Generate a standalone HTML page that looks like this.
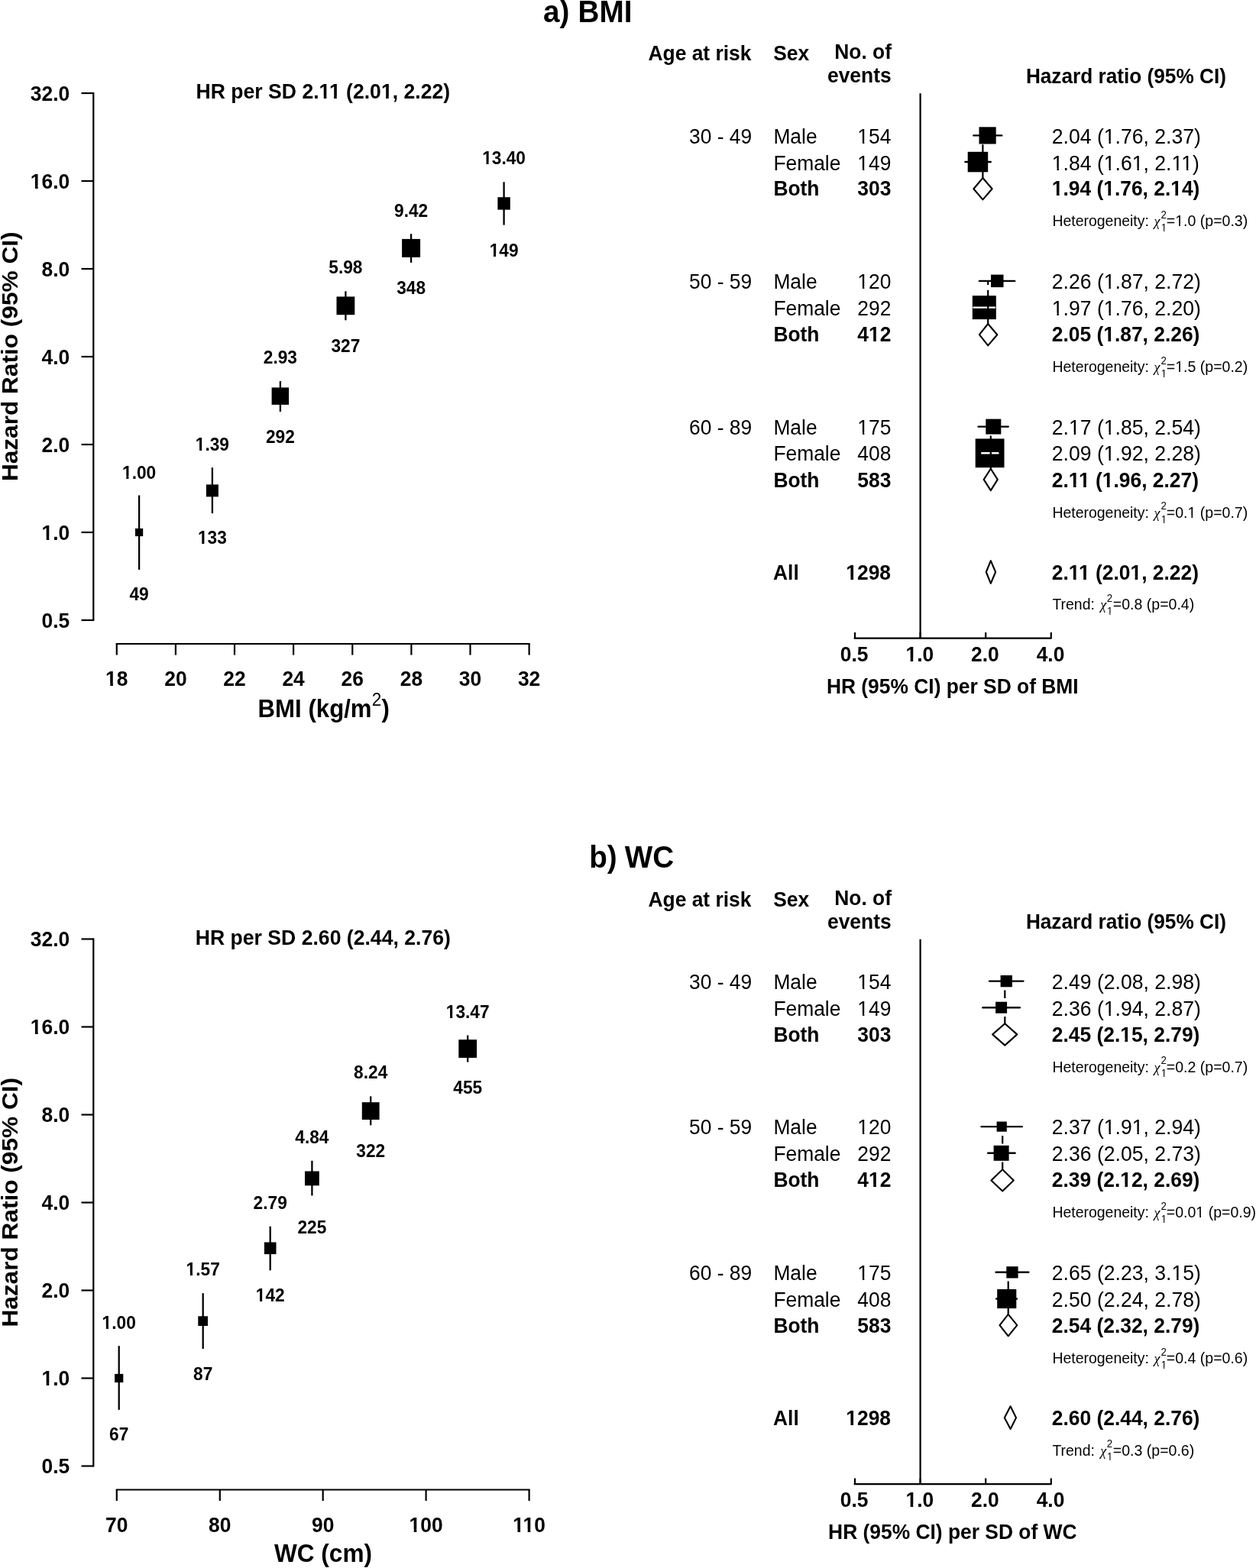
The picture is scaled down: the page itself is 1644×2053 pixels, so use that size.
<!DOCTYPE html>
<html><head><meta charset="utf-8"><title>Hazard ratios by BMI and WC</title>
<style>
html,body{margin:0;padding:0;background:#fff;}
svg{display:block;}
text{font-family:"Liberation Sans",Arial,sans-serif;fill:#000;}
</style></head><body>
<svg width="1644" height="2053" viewBox="0 0 1644 2053">
<rect width="1644" height="2053" fill="#fff"/>
<text transform="translate(711.0,28.5) scale(1,1.05)" font-size="38.7" text-anchor="start" font-weight="bold">a)</text>
<text transform="translate(756.5,28.5) scale(1,1.05)" font-size="38.7" text-anchor="start" font-weight="bold">BMI</text>
<line x1="122.3" y1="120.9" x2="122.3" y2="813.1" stroke="#000" stroke-width="2.2"/>
<line x1="106.5" y1="122.0" x2="122.3" y2="122.0" stroke="#000" stroke-width="2.2"/>
<text transform="translate(91.2,131.9) scale(1,1.05)" font-size="26.4" text-anchor="end" font-weight="bold">32.0</text>
<line x1="106.5" y1="237.0" x2="122.3" y2="237.0" stroke="#000" stroke-width="2.2"/>
<text transform="translate(91.2,246.9) scale(1,1.05)" font-size="26.4" text-anchor="end" font-weight="bold">16.0</text>
<line x1="106.5" y1="352.0" x2="122.3" y2="352.0" stroke="#000" stroke-width="2.2"/>
<text transform="translate(91.2,361.9) scale(1,1.05)" font-size="26.4" text-anchor="end" font-weight="bold">8.0</text>
<line x1="106.5" y1="467.0" x2="122.3" y2="467.0" stroke="#000" stroke-width="2.2"/>
<text transform="translate(91.2,476.9) scale(1,1.05)" font-size="26.4" text-anchor="end" font-weight="bold">4.0</text>
<line x1="106.5" y1="582.0" x2="122.3" y2="582.0" stroke="#000" stroke-width="2.2"/>
<text transform="translate(91.2,591.9) scale(1,1.05)" font-size="26.4" text-anchor="end" font-weight="bold">2.0</text>
<line x1="106.5" y1="697.0" x2="122.3" y2="697.0" stroke="#000" stroke-width="2.2"/>
<text transform="translate(91.2,706.9) scale(1,1.05)" font-size="26.4" text-anchor="end" font-weight="bold">1.0</text>
<line x1="106.5" y1="812.0" x2="122.3" y2="812.0" stroke="#000" stroke-width="2.2"/>
<text transform="translate(91.2,821.9) scale(1,1.05)" font-size="26.4" text-anchor="end" font-weight="bold">0.5</text>
<text x="0" y="0" font-size="30.1" font-weight="bold" text-anchor="middle" transform="translate(22.8,466.8) rotate(-90) scale(1.05,1)">Hazard Ratio (95% CI)</text>
<line x1="151.7" y1="843.0" x2="693.7" y2="843.0" stroke="#000" stroke-width="2.2"/>
<line x1="152.8" y1="843.0" x2="152.8" y2="857.6" stroke="#000" stroke-width="2.2"/>
<text transform="translate(152.8,898.3) scale(1,1.05)" font-size="26.4" text-anchor="middle" font-weight="bold">18</text>
<line x1="229.9" y1="843.0" x2="229.9" y2="857.6" stroke="#000" stroke-width="2.2"/>
<text transform="translate(229.9,898.3) scale(1,1.05)" font-size="26.4" text-anchor="middle" font-weight="bold">20</text>
<line x1="307.0" y1="843.0" x2="307.0" y2="857.6" stroke="#000" stroke-width="2.2"/>
<text transform="translate(307.0,898.3) scale(1,1.05)" font-size="26.4" text-anchor="middle" font-weight="bold">22</text>
<line x1="384.1" y1="843.0" x2="384.1" y2="857.6" stroke="#000" stroke-width="2.2"/>
<text transform="translate(384.1,898.3) scale(1,1.05)" font-size="26.4" text-anchor="middle" font-weight="bold">24</text>
<line x1="461.3" y1="843.0" x2="461.3" y2="857.6" stroke="#000" stroke-width="2.2"/>
<text transform="translate(461.3,898.3) scale(1,1.05)" font-size="26.4" text-anchor="middle" font-weight="bold">26</text>
<line x1="538.4" y1="843.0" x2="538.4" y2="857.6" stroke="#000" stroke-width="2.2"/>
<text transform="translate(538.4,898.3) scale(1,1.05)" font-size="26.4" text-anchor="middle" font-weight="bold">28</text>
<line x1="615.5" y1="843.0" x2="615.5" y2="857.6" stroke="#000" stroke-width="2.2"/>
<text transform="translate(615.5,898.3) scale(1,1.05)" font-size="26.4" text-anchor="middle" font-weight="bold">30</text>
<line x1="692.6" y1="843.0" x2="692.6" y2="857.6" stroke="#000" stroke-width="2.2"/>
<text transform="translate(692.6,898.3) scale(1,1.05)" font-size="26.4" text-anchor="middle" font-weight="bold">32</text>
<text transform="translate(337.6,939.0) scale(1,1.05)" font-size="31.2" font-weight="bold">BMI (kg/m<tspan font-size="22.5" font-weight="normal" dy="-14" dx="0.3">2</tspan><tspan dy="14">)</tspan></text>
<text transform="translate(422.8,129.4) scale(1,1.05)" font-size="26.6" text-anchor="middle" font-weight="bold">HR per SD 2.11 (2.01, 2.22)</text>
<line x1="182.1" y1="648.5" x2="182.1" y2="745.9" stroke="#000" stroke-width="2.3"/>
<rect x="177.0" y="691.9" width="10.2" height="10.2" fill="#000"/>
<text transform="translate(182.1,626.5) scale(1,1.05)" font-size="22.7" text-anchor="middle" font-weight="bold">1.00</text>
<text transform="translate(182.1,785.5) scale(1,1.05)" font-size="22.7" text-anchor="middle" font-weight="bold">49</text>
<line x1="277.9" y1="612.2" x2="277.9" y2="672.2" stroke="#000" stroke-width="2.3"/>
<rect x="269.9" y="634.4" width="16.0" height="16.0" fill="#000"/>
<text transform="translate(277.9,590.1) scale(1,1.05)" font-size="22.7" text-anchor="middle" font-weight="bold">1.39</text>
<text transform="translate(277.9,712.4) scale(1,1.05)" font-size="22.7" text-anchor="middle" font-weight="bold">133</text>
<line x1="366.9" y1="499.1" x2="366.9" y2="539.0" stroke="#000" stroke-width="2.3"/>
<rect x="355.6" y="507.4" width="22.5" height="22.5" fill="#000"/>
<text transform="translate(366.9,475.6) scale(1,1.05)" font-size="22.7" text-anchor="middle" font-weight="bold">2.93</text>
<text transform="translate(366.9,580.1) scale(1,1.05)" font-size="22.7" text-anchor="middle" font-weight="bold">292</text>
<line x1="452.4" y1="381.3" x2="452.4" y2="419.3" stroke="#000" stroke-width="2.3"/>
<rect x="440.5" y="388.4" width="23.8" height="23.8" fill="#000"/>
<text transform="translate(452.4,358.4) scale(1,1.05)" font-size="22.7" text-anchor="middle" font-weight="bold">5.98</text>
<text transform="translate(452.4,461.0) scale(1,1.05)" font-size="22.7" text-anchor="middle" font-weight="bold">327</text>
<line x1="538.1" y1="306.2" x2="538.1" y2="343.9" stroke="#000" stroke-width="2.3"/>
<rect x="526.1" y="312.9" width="24.0" height="24.0" fill="#000"/>
<text transform="translate(538.1,283.6) scale(1,1.05)" font-size="22.7" text-anchor="middle" font-weight="bold">9.42</text>
<text transform="translate(538.1,384.5) scale(1,1.05)" font-size="22.7" text-anchor="middle" font-weight="bold">348</text>
<line x1="659.6" y1="238.3" x2="659.6" y2="294.6" stroke="#000" stroke-width="2.3"/>
<rect x="651.4" y="258.2" width="16.4" height="16.4" fill="#000"/>
<text transform="translate(659.6,215.4) scale(1,1.05)" font-size="22.7" text-anchor="middle" font-weight="bold">13.40</text>
<text transform="translate(659.6,335.9) scale(1,1.05)" font-size="22.7" text-anchor="middle" font-weight="bold">149</text>
<text transform="translate(983.4,79.2) scale(1,1.05)" font-size="26.4" text-anchor="end" font-weight="bold">Age at risk</text>
<text transform="translate(1012.2,79.2) scale(1,1.05)" font-size="26.4" text-anchor="start" font-weight="bold">Sex</text>
<text transform="translate(1167.0,77.2) scale(1,1.05)" font-size="26.4" text-anchor="end" font-weight="bold">No. of</text>
<text transform="translate(1166.6,108.2) scale(1,1.05)" font-size="26.4" text-anchor="end" font-weight="bold">events</text>
<text transform="translate(1473.9,108.6) scale(1,1.05)" font-size="26.2" text-anchor="middle" font-weight="bold">Hazard ratio (95% CI)</text>
<line x1="1204.6" y1="122.3" x2="1204.6" y2="835.7" stroke="#000" stroke-width="2.2"/>
<line x1="1117.7" y1="835.7" x2="1376.6" y2="835.7" stroke="#000" stroke-width="2.2"/>
<line x1="1119.0" y1="828.0" x2="1119.0" y2="835.7" stroke="#000" stroke-width="2.2"/>
<text transform="translate(1118.2,865.7) scale(1,1.05)" font-size="26.4" text-anchor="middle" font-weight="bold">0.5</text>
<line x1="1204.6" y1="828.0" x2="1204.6" y2="835.7" stroke="#000" stroke-width="2.2"/>
<text transform="translate(1203.8,865.7) scale(1,1.05)" font-size="26.4" text-anchor="middle" font-weight="bold">1.0</text>
<line x1="1290.2" y1="828.0" x2="1290.2" y2="835.7" stroke="#000" stroke-width="2.2"/>
<text transform="translate(1289.4,865.7) scale(1,1.05)" font-size="26.4" text-anchor="middle" font-weight="bold">2.0</text>
<line x1="1375.8" y1="828.0" x2="1375.8" y2="835.7" stroke="#000" stroke-width="2.2"/>
<text transform="translate(1375.0,865.7) scale(1,1.05)" font-size="26.4" text-anchor="middle" font-weight="bold">4.0</text>
<text transform="translate(1246.8,907.7) scale(1,1.05)" font-size="26.4" text-anchor="middle" font-weight="bold">HR (95% CI) per SD of BMI</text>
<rect x="1281.5" y="166.3" width="22.2" height="22.2" fill="#000"/>
<line x1="1274.4" y1="177.4" x2="1311.2" y2="177.4" stroke="#000" stroke-width="2.4" stroke-linecap="round"/>
<rect x="1266.7" y="198.8" width="26.5" height="26.5" fill="#000"/>
<line x1="1263.4" y1="212.0" x2="1296.8" y2="212.0" stroke="#000" stroke-width="2.4" stroke-linecap="round"/>
<line x1="1286.4" y1="177.4" x2="1286.4" y2="247.2" stroke="#000" stroke-width="2.2" stroke-dasharray="10.5 6.8" stroke-dashoffset="5.5"/>
<polygon points="1274.4,247.2 1286.4,233.0 1298.6,247.2 1286.4,261.4" fill="#fff" stroke="#000" stroke-width="2.1" stroke-linejoin="round"/>
<text transform="translate(984.2,187.8) scale(1,1.05)" font-size="26.4" text-anchor="end">30 - 49</text>
<text transform="translate(1012.4,187.8) scale(1,1.05)" font-size="26.4" text-anchor="start">Male</text>
<text transform="translate(1012.4,222.7) scale(1,1.05)" font-size="26.4" text-anchor="start">Female</text>
<text transform="translate(1012.4,256.3) scale(1,1.05)" font-size="26.4" text-anchor="start" font-weight="bold">Both</text>
<text transform="translate(1166.4,187.8) scale(1,1.05)" font-size="26.4" text-anchor="end">154</text>
<text transform="translate(1166.4,222.7) scale(1,1.05)" font-size="26.4" text-anchor="end">149</text>
<text transform="translate(1166.4,256.3) scale(1,1.05)" font-size="26.4" text-anchor="end" font-weight="bold">303</text>
<text transform="translate(1376.8,187.8) scale(1,1.05)" font-size="26.6" text-anchor="start">2.04 (1.76, 2.37)</text>
<text transform="translate(1376.8,222.7) scale(1,1.05)" font-size="26.6" text-anchor="start">1.84 (1.61, 2.11)</text>
<text transform="translate(1376.8,256.3) scale(1,1.05)" font-size="26.4" text-anchor="start" font-weight="bold">1.94 (1.76, 2.14)</text>
<text transform="translate(1377.4,296.3) scale(1,1.05)" font-size="19.45" text-anchor="start">Heterogeneity: </text>
<text transform="translate(1510.4,296.3) scale(1,1.05)" font-size="18" text-anchor="start" style="font-family:'Liberation Serif',serif;font-style:italic">χ</text>
<text transform="translate(1519.6,285.7) scale(1,1.05)" font-size="13.2" text-anchor="start">2</text>
<text transform="translate(1519.8,303.2) scale(1,1.05)" font-size="13.2" text-anchor="start">1</text>
<text transform="translate(1526.8,296.3) scale(1,1.05)" font-size="19.55" text-anchor="start">=1.0 (p=0.3)</text>
<rect x="1297.0" y="359.6" width="16.5" height="16.5" fill="#000"/>
<line x1="1281.9" y1="367.9" x2="1328.2" y2="367.9" stroke="#000" stroke-width="2.4" stroke-linecap="round"/>
<rect x="1272.8" y="387.1" width="31.0" height="31.0" fill="#000"/>
<line x1="1274.4" y1="402.6" x2="1302.0" y2="402.6" stroke="#fff" stroke-width="2.4" stroke-linecap="round"/>
<line x1="1293.2" y1="367.9" x2="1293.2" y2="438.2" stroke="#000" stroke-width="2.2" stroke-dasharray="10.5 6.8" stroke-dashoffset="5.5"/>
<polygon points="1281.9,438.2 1293.2,424.0 1305.3,438.2 1293.2,452.4" fill="#fff" stroke="#000" stroke-width="2.1" stroke-linejoin="round"/>
<text transform="translate(984.2,377.8) scale(1,1.05)" font-size="26.4" text-anchor="end">50 - 59</text>
<text transform="translate(1012.4,377.8) scale(1,1.05)" font-size="26.4" text-anchor="start">Male</text>
<text transform="translate(1012.4,412.7) scale(1,1.05)" font-size="26.4" text-anchor="start">Female</text>
<text transform="translate(1012.4,447.2) scale(1,1.05)" font-size="26.4" text-anchor="start" font-weight="bold">Both</text>
<text transform="translate(1166.4,377.8) scale(1,1.05)" font-size="26.4" text-anchor="end">120</text>
<text transform="translate(1166.4,412.7) scale(1,1.05)" font-size="26.4" text-anchor="end">292</text>
<text transform="translate(1166.4,447.2) scale(1,1.05)" font-size="26.4" text-anchor="end" font-weight="bold">412</text>
<text transform="translate(1376.8,377.8) scale(1,1.05)" font-size="26.6" text-anchor="start">2.26 (1.87, 2.72)</text>
<text transform="translate(1376.8,412.7) scale(1,1.05)" font-size="26.6" text-anchor="start">1.97 (1.76, 2.20)</text>
<text transform="translate(1376.8,447.2) scale(1,1.05)" font-size="26.4" text-anchor="start" font-weight="bold">2.05 (1.87, 2.26)</text>
<text transform="translate(1377.4,487.2) scale(1,1.05)" font-size="19.45" text-anchor="start">Heterogeneity: </text>
<text transform="translate(1510.4,487.2) scale(1,1.05)" font-size="18" text-anchor="start" style="font-family:'Liberation Serif',serif;font-style:italic">χ</text>
<text transform="translate(1519.6,476.6) scale(1,1.05)" font-size="13.2" text-anchor="start">2</text>
<text transform="translate(1519.8,494.1) scale(1,1.05)" font-size="13.2" text-anchor="start">1</text>
<text transform="translate(1526.8,487.2) scale(1,1.05)" font-size="19.55" text-anchor="start">=1.5 (p=0.2)</text>
<rect x="1290.3" y="548.6" width="20.0" height="20.0" fill="#000"/>
<line x1="1280.6" y1="558.6" x2="1319.7" y2="558.6" stroke="#000" stroke-width="2.4" stroke-linecap="round"/>
<rect x="1276.7" y="574.4" width="37.8" height="37.8" fill="#000"/>
<line x1="1285.2" y1="593.3" x2="1306.4" y2="593.3" stroke="#fff" stroke-width="2.4" stroke-linecap="round"/>
<line x1="1296.8" y1="558.6" x2="1296.8" y2="627.9" stroke="#000" stroke-width="2.2" stroke-dasharray="10.5 6.8" stroke-dashoffset="5.5"/>
<polygon points="1287.7,627.9 1296.8,613.7 1305.8,627.9 1296.8,642.1" fill="#fff" stroke="#000" stroke-width="2.1" stroke-linejoin="round"/>
<text transform="translate(984.2,568.9) scale(1,1.05)" font-size="26.4" text-anchor="end">60 - 89</text>
<text transform="translate(1012.4,568.9) scale(1,1.05)" font-size="26.4" text-anchor="start">Male</text>
<text transform="translate(1012.4,603.3) scale(1,1.05)" font-size="26.4" text-anchor="start">Female</text>
<text transform="translate(1012.4,638.0) scale(1,1.05)" font-size="26.4" text-anchor="start" font-weight="bold">Both</text>
<text transform="translate(1166.4,568.9) scale(1,1.05)" font-size="26.4" text-anchor="end">175</text>
<text transform="translate(1166.4,603.3) scale(1,1.05)" font-size="26.4" text-anchor="end">408</text>
<text transform="translate(1166.4,638.0) scale(1,1.05)" font-size="26.4" text-anchor="end" font-weight="bold">583</text>
<text transform="translate(1376.8,568.9) scale(1,1.05)" font-size="26.6" text-anchor="start">2.17 (1.85, 2.54)</text>
<text transform="translate(1376.8,603.3) scale(1,1.05)" font-size="26.6" text-anchor="start">2.09 (1.92, 2.28)</text>
<text transform="translate(1376.8,638.0) scale(1,1.05)" font-size="26.4" text-anchor="start" font-weight="bold">2.11 (1.96, 2.27)</text>
<text transform="translate(1377.4,678.0) scale(1,1.05)" font-size="19.45" text-anchor="start">Heterogeneity: </text>
<text transform="translate(1510.4,678.0) scale(1,1.05)" font-size="18" text-anchor="start" style="font-family:'Liberation Serif',serif;font-style:italic">χ</text>
<text transform="translate(1519.6,667.4) scale(1,1.05)" font-size="13.2" text-anchor="start">2</text>
<text transform="translate(1519.8,684.9) scale(1,1.05)" font-size="13.2" text-anchor="start">1</text>
<text transform="translate(1526.8,678.0) scale(1,1.05)" font-size="19.55" text-anchor="start">=0.1 (p=0.7)</text>
<polygon points="1290.8,749.0 1296.8,734.1 1303.1,749.0 1296.8,763.9" fill="#fff" stroke="#000" stroke-width="2.1" stroke-linejoin="round"/>
<text transform="translate(1012.0,759.2) scale(1,1.05)" font-size="26.4" text-anchor="start" font-weight="bold">All</text>
<text transform="translate(1166.0,759.2) scale(1,1.05)" font-size="26.4" text-anchor="end" font-weight="bold">1298</text>
<text transform="translate(1376.8,759.2) scale(1,1.05)" font-size="26.4" text-anchor="start" font-weight="bold">2.11 (2.01, 2.22)</text>
<text transform="translate(1377.4,798.3) scale(1,1.05)" font-size="19.45" text-anchor="start">Trend: </text>
<text transform="translate(1440.3,798.3) scale(1,1.05)" font-size="18" text-anchor="start" style="font-family:'Liberation Serif',serif;font-style:italic">χ</text>
<text transform="translate(1448.8,787.7) scale(1,1.05)" font-size="13.2" text-anchor="start">2</text>
<text transform="translate(1449.0,805.2) scale(1,1.05)" font-size="13.2" text-anchor="start">1</text>
<text transform="translate(1456.8,798.3) scale(1,1.05)" font-size="19.55" text-anchor="start">=0.8 (p=0.4)</text>
<text transform="translate(771.2,1136.0) scale(1,1.05)" font-size="38.7" text-anchor="start" font-weight="bold">b)</text>
<text transform="translate(817.8,1136.0) scale(1,1.05)" font-size="38.7" text-anchor="start" font-weight="bold">WC</text>
<line x1="122.3" y1="1228.4" x2="122.3" y2="1920.6" stroke="#000" stroke-width="2.2"/>
<line x1="106.5" y1="1229.5" x2="122.3" y2="1229.5" stroke="#000" stroke-width="2.2"/>
<text transform="translate(91.2,1239.4) scale(1,1.05)" font-size="26.4" text-anchor="end" font-weight="bold">32.0</text>
<line x1="106.5" y1="1344.5" x2="122.3" y2="1344.5" stroke="#000" stroke-width="2.2"/>
<text transform="translate(91.2,1354.4) scale(1,1.05)" font-size="26.4" text-anchor="end" font-weight="bold">16.0</text>
<line x1="106.5" y1="1459.5" x2="122.3" y2="1459.5" stroke="#000" stroke-width="2.2"/>
<text transform="translate(91.2,1469.4) scale(1,1.05)" font-size="26.4" text-anchor="end" font-weight="bold">8.0</text>
<line x1="106.5" y1="1574.5" x2="122.3" y2="1574.5" stroke="#000" stroke-width="2.2"/>
<text transform="translate(91.2,1584.4) scale(1,1.05)" font-size="26.4" text-anchor="end" font-weight="bold">4.0</text>
<line x1="106.5" y1="1689.5" x2="122.3" y2="1689.5" stroke="#000" stroke-width="2.2"/>
<text transform="translate(91.2,1699.4) scale(1,1.05)" font-size="26.4" text-anchor="end" font-weight="bold">2.0</text>
<line x1="106.5" y1="1804.5" x2="122.3" y2="1804.5" stroke="#000" stroke-width="2.2"/>
<text transform="translate(91.2,1814.4) scale(1,1.05)" font-size="26.4" text-anchor="end" font-weight="bold">1.0</text>
<line x1="106.5" y1="1919.5" x2="122.3" y2="1919.5" stroke="#000" stroke-width="2.2"/>
<text transform="translate(91.2,1929.4) scale(1,1.05)" font-size="26.4" text-anchor="end" font-weight="bold">0.5</text>
<text x="0" y="0" font-size="30.1" font-weight="bold" text-anchor="middle" transform="translate(22.8,1574.3) rotate(-90) scale(1.05,1)">Hazard Ratio (95% CI)</text>
<line x1="151.7" y1="1950.5" x2="693.7" y2="1950.5" stroke="#000" stroke-width="2.2"/>
<line x1="152.8" y1="1950.5" x2="152.8" y2="1965.1" stroke="#000" stroke-width="2.2"/>
<text transform="translate(152.8,2005.8) scale(1,1.05)" font-size="26.4" text-anchor="middle" font-weight="bold">70</text>
<line x1="287.8" y1="1950.5" x2="287.8" y2="1965.1" stroke="#000" stroke-width="2.2"/>
<text transform="translate(287.8,2005.8) scale(1,1.05)" font-size="26.4" text-anchor="middle" font-weight="bold">80</text>
<line x1="422.7" y1="1950.5" x2="422.7" y2="1965.1" stroke="#000" stroke-width="2.2"/>
<text transform="translate(422.7,2005.8) scale(1,1.05)" font-size="26.4" text-anchor="middle" font-weight="bold">90</text>
<line x1="557.6" y1="1950.5" x2="557.6" y2="1965.1" stroke="#000" stroke-width="2.2"/>
<text transform="translate(557.6,2005.8) scale(1,1.05)" font-size="26.4" text-anchor="middle" font-weight="bold">100</text>
<line x1="692.6" y1="1950.5" x2="692.6" y2="1965.1" stroke="#000" stroke-width="2.2"/>
<text transform="translate(692.6,2005.8) scale(1,1.05)" font-size="26.4" text-anchor="middle" font-weight="bold">110</text>
<text transform="translate(423.0,2045.2) scale(1,1.05)" font-size="31.6" text-anchor="middle" font-weight="bold">WC (cm)</text>
<text transform="translate(422.8,1236.9) scale(1,1.05)" font-size="26.6" text-anchor="middle" font-weight="bold">HR per SD 2.60 (2.44, 2.76)</text>
<line x1="155.7" y1="1762.2" x2="155.7" y2="1845.9" stroke="#000" stroke-width="2.3"/>
<rect x="150.1" y="1798.9" width="11.2" height="11.2" fill="#000"/>
<text transform="translate(155.7,1740.0) scale(1,1.05)" font-size="22.7" text-anchor="middle" font-weight="bold">1.00</text>
<text transform="translate(155.7,1886.3) scale(1,1.05)" font-size="22.7" text-anchor="middle" font-weight="bold">67</text>
<line x1="265.7" y1="1693.2" x2="265.7" y2="1766.0" stroke="#000" stroke-width="2.3"/>
<rect x="259.3" y="1723.3" width="12.7" height="12.7" fill="#000"/>
<text transform="translate(265.7,1670.0) scale(1,1.05)" font-size="22.7" text-anchor="middle" font-weight="bold">1.57</text>
<text transform="translate(265.7,1806.5) scale(1,1.05)" font-size="22.7" text-anchor="middle" font-weight="bold">87</text>
<line x1="353.7" y1="1605.7" x2="353.7" y2="1663.3" stroke="#000" stroke-width="2.3"/>
<rect x="345.9" y="1626.5" width="15.6" height="15.6" fill="#000"/>
<text transform="translate(353.7,1582.5) scale(1,1.05)" font-size="22.7" text-anchor="middle" font-weight="bold">2.79</text>
<text transform="translate(353.7,1703.8) scale(1,1.05)" font-size="22.7" text-anchor="middle" font-weight="bold">142</text>
<line x1="408.4" y1="1519.8" x2="408.4" y2="1565.4" stroke="#000" stroke-width="2.3"/>
<rect x="399.0" y="1533.5" width="18.8" height="18.8" fill="#000"/>
<text transform="translate(408.4,1496.9) scale(1,1.05)" font-size="22.7" text-anchor="middle" font-weight="bold">4.84</text>
<text transform="translate(408.4,1615.1) scale(1,1.05)" font-size="22.7" text-anchor="middle" font-weight="bold">225</text>
<line x1="485.2" y1="1435.4" x2="485.2" y2="1473.3" stroke="#000" stroke-width="2.3"/>
<rect x="473.8" y="1443.2" width="22.8" height="22.8" fill="#000"/>
<text transform="translate(485.2,1412.3) scale(1,1.05)" font-size="22.7" text-anchor="middle" font-weight="bold">8.24</text>
<text transform="translate(485.2,1514.7) scale(1,1.05)" font-size="22.7" text-anchor="middle" font-weight="bold">322</text>
<line x1="612.2" y1="1355.5" x2="612.2" y2="1390.6" stroke="#000" stroke-width="2.3"/>
<rect x="600.3" y="1361.2" width="23.8" height="23.8" fill="#000"/>
<text transform="translate(612.2,1332.7) scale(1,1.05)" font-size="22.7" text-anchor="middle" font-weight="bold">13.47</text>
<text transform="translate(612.2,1431.7) scale(1,1.05)" font-size="22.7" text-anchor="middle" font-weight="bold">455</text>
<text transform="translate(983.4,1186.7) scale(1,1.05)" font-size="26.4" text-anchor="end" font-weight="bold">Age at risk</text>
<text transform="translate(1012.2,1186.7) scale(1,1.05)" font-size="26.4" text-anchor="start" font-weight="bold">Sex</text>
<text transform="translate(1167.0,1184.7) scale(1,1.05)" font-size="26.4" text-anchor="end" font-weight="bold">No. of</text>
<text transform="translate(1166.6,1215.7) scale(1,1.05)" font-size="26.4" text-anchor="end" font-weight="bold">events</text>
<text transform="translate(1473.9,1216.1) scale(1,1.05)" font-size="26.2" text-anchor="middle" font-weight="bold">Hazard ratio (95% CI)</text>
<line x1="1204.6" y1="1229.8" x2="1204.6" y2="1943.2" stroke="#000" stroke-width="2.2"/>
<line x1="1117.7" y1="1943.2" x2="1376.6" y2="1943.2" stroke="#000" stroke-width="2.2"/>
<line x1="1119.0" y1="1935.5" x2="1119.0" y2="1943.2" stroke="#000" stroke-width="2.2"/>
<text transform="translate(1118.2,1973.2) scale(1,1.05)" font-size="26.4" text-anchor="middle" font-weight="bold">0.5</text>
<line x1="1204.6" y1="1935.5" x2="1204.6" y2="1943.2" stroke="#000" stroke-width="2.2"/>
<text transform="translate(1203.8,1973.2) scale(1,1.05)" font-size="26.4" text-anchor="middle" font-weight="bold">1.0</text>
<line x1="1290.2" y1="1935.5" x2="1290.2" y2="1943.2" stroke="#000" stroke-width="2.2"/>
<text transform="translate(1289.4,1973.2) scale(1,1.05)" font-size="26.4" text-anchor="middle" font-weight="bold">2.0</text>
<line x1="1375.8" y1="1935.5" x2="1375.8" y2="1943.2" stroke="#000" stroke-width="2.2"/>
<text transform="translate(1375.0,1973.2) scale(1,1.05)" font-size="26.4" text-anchor="middle" font-weight="bold">4.0</text>
<text transform="translate(1246.8,2015.2) scale(1,1.05)" font-size="26.4" text-anchor="middle" font-weight="bold">HR (95% CI) per SD of WC</text>
<rect x="1309.6" y="1277.0" width="15.3" height="15.3" fill="#000"/>
<line x1="1295.0" y1="1284.6" x2="1339.4" y2="1284.6" stroke="#000" stroke-width="2.4" stroke-linecap="round"/>
<rect x="1303.1" y="1311.7" width="15.0" height="15.0" fill="#000"/>
<line x1="1286.4" y1="1319.2" x2="1334.8" y2="1319.2" stroke="#000" stroke-width="2.4" stroke-linecap="round"/>
<line x1="1315.3" y1="1284.6" x2="1315.3" y2="1354.4" stroke="#000" stroke-width="2.2" stroke-dasharray="10.5 6.8" stroke-dashoffset="5.5"/>
<polygon points="1299.1,1354.4 1315.3,1340.2 1331.3,1354.4 1315.3,1368.6" fill="#fff" stroke="#000" stroke-width="2.1" stroke-linejoin="round"/>
<text transform="translate(984.2,1295.0) scale(1,1.05)" font-size="26.4" text-anchor="end">30 - 49</text>
<text transform="translate(1012.4,1295.0) scale(1,1.05)" font-size="26.4" text-anchor="start">Male</text>
<text transform="translate(1012.4,1329.9) scale(1,1.05)" font-size="26.4" text-anchor="start">Female</text>
<text transform="translate(1012.4,1363.5) scale(1,1.05)" font-size="26.4" text-anchor="start" font-weight="bold">Both</text>
<text transform="translate(1166.4,1295.0) scale(1,1.05)" font-size="26.4" text-anchor="end">154</text>
<text transform="translate(1166.4,1329.9) scale(1,1.05)" font-size="26.4" text-anchor="end">149</text>
<text transform="translate(1166.4,1363.5) scale(1,1.05)" font-size="26.4" text-anchor="end" font-weight="bold">303</text>
<text transform="translate(1376.8,1295.0) scale(1,1.05)" font-size="26.6" text-anchor="start">2.49 (2.08, 2.98)</text>
<text transform="translate(1376.8,1329.9) scale(1,1.05)" font-size="26.6" text-anchor="start">2.36 (1.94, 2.87)</text>
<text transform="translate(1376.8,1363.5) scale(1,1.05)" font-size="26.4" text-anchor="start" font-weight="bold">2.45 (2.15, 2.79)</text>
<text transform="translate(1377.4,1403.5) scale(1,1.05)" font-size="19.45" text-anchor="start">Heterogeneity: </text>
<text transform="translate(1510.4,1403.5) scale(1,1.05)" font-size="18" text-anchor="start" style="font-family:'Liberation Serif',serif;font-style:italic">χ</text>
<text transform="translate(1519.6,1392.9) scale(1,1.05)" font-size="13.2" text-anchor="start">2</text>
<text transform="translate(1519.8,1410.4) scale(1,1.05)" font-size="13.2" text-anchor="start">1</text>
<text transform="translate(1526.8,1403.5) scale(1,1.05)" font-size="19.55" text-anchor="start">=0.2 (p=0.7)</text>
<rect x="1304.6" y="1468.5" width="13.2" height="13.2" fill="#000"/>
<line x1="1284.5" y1="1475.1" x2="1337.8" y2="1475.1" stroke="#000" stroke-width="2.4" stroke-linecap="round"/>
<rect x="1300.6" y="1499.8" width="20.0" height="20.0" fill="#000"/>
<line x1="1293.2" y1="1509.8" x2="1328.6" y2="1509.8" stroke="#000" stroke-width="2.4" stroke-linecap="round"/>
<line x1="1312.2" y1="1475.1" x2="1312.2" y2="1545.4" stroke="#000" stroke-width="2.2" stroke-dasharray="10.5 6.8" stroke-dashoffset="5.5"/>
<polygon points="1297.4,1545.4 1312.2,1531.2 1326.8,1545.4 1312.2,1559.6" fill="#fff" stroke="#000" stroke-width="2.1" stroke-linejoin="round"/>
<text transform="translate(984.2,1485.0) scale(1,1.05)" font-size="26.4" text-anchor="end">50 - 59</text>
<text transform="translate(1012.4,1485.0) scale(1,1.05)" font-size="26.4" text-anchor="start">Male</text>
<text transform="translate(1012.4,1519.9) scale(1,1.05)" font-size="26.4" text-anchor="start">Female</text>
<text transform="translate(1012.4,1554.4) scale(1,1.05)" font-size="26.4" text-anchor="start" font-weight="bold">Both</text>
<text transform="translate(1166.4,1485.0) scale(1,1.05)" font-size="26.4" text-anchor="end">120</text>
<text transform="translate(1166.4,1519.9) scale(1,1.05)" font-size="26.4" text-anchor="end">292</text>
<text transform="translate(1166.4,1554.4) scale(1,1.05)" font-size="26.4" text-anchor="end" font-weight="bold">412</text>
<text transform="translate(1376.8,1485.0) scale(1,1.05)" font-size="26.6" text-anchor="start">2.37 (1.91, 2.94)</text>
<text transform="translate(1376.8,1519.9) scale(1,1.05)" font-size="26.6" text-anchor="start">2.36 (2.05, 2.73)</text>
<text transform="translate(1376.8,1554.4) scale(1,1.05)" font-size="26.4" text-anchor="start" font-weight="bold">2.39 (2.12, 2.69)</text>
<text transform="translate(1377.4,1594.4) scale(1,1.05)" font-size="19.45" text-anchor="start">Heterogeneity: </text>
<text transform="translate(1510.4,1594.4) scale(1,1.05)" font-size="18" text-anchor="start" style="font-family:'Liberation Serif',serif;font-style:italic">χ</text>
<text transform="translate(1519.6,1583.8) scale(1,1.05)" font-size="13.2" text-anchor="start">2</text>
<text transform="translate(1519.8,1601.3) scale(1,1.05)" font-size="13.2" text-anchor="start">1</text>
<text transform="translate(1526.8,1594.4) scale(1,1.05)" font-size="19.55" text-anchor="start">=0.01 (p=0.9)</text>
<rect x="1317.3" y="1658.2" width="15.3" height="15.3" fill="#000"/>
<line x1="1303.6" y1="1665.8" x2="1346.3" y2="1665.8" stroke="#000" stroke-width="2.4" stroke-linecap="round"/>
<rect x="1305.2" y="1688.0" width="25.1" height="25.1" fill="#000"/>
<line x1="1304.2" y1="1700.5" x2="1330.9" y2="1700.5" stroke="#000" stroke-width="2.4" stroke-linecap="round"/>
<line x1="1319.7" y1="1665.8" x2="1319.7" y2="1735.1" stroke="#000" stroke-width="2.2" stroke-dasharray="10.5 6.8" stroke-dashoffset="5.5"/>
<polygon points="1308.5,1735.1 1319.7,1720.9 1331.3,1735.1 1319.7,1749.3" fill="#fff" stroke="#000" stroke-width="2.1" stroke-linejoin="round"/>
<text transform="translate(984.2,1676.1) scale(1,1.05)" font-size="26.4" text-anchor="end">60 - 89</text>
<text transform="translate(1012.4,1676.1) scale(1,1.05)" font-size="26.4" text-anchor="start">Male</text>
<text transform="translate(1012.4,1710.5) scale(1,1.05)" font-size="26.4" text-anchor="start">Female</text>
<text transform="translate(1012.4,1745.2) scale(1,1.05)" font-size="26.4" text-anchor="start" font-weight="bold">Both</text>
<text transform="translate(1166.4,1676.1) scale(1,1.05)" font-size="26.4" text-anchor="end">175</text>
<text transform="translate(1166.4,1710.5) scale(1,1.05)" font-size="26.4" text-anchor="end">408</text>
<text transform="translate(1166.4,1745.2) scale(1,1.05)" font-size="26.4" text-anchor="end" font-weight="bold">583</text>
<text transform="translate(1376.8,1676.1) scale(1,1.05)" font-size="26.6" text-anchor="start">2.65 (2.23, 3.15)</text>
<text transform="translate(1376.8,1710.5) scale(1,1.05)" font-size="26.6" text-anchor="start">2.50 (2.24, 2.78)</text>
<text transform="translate(1376.8,1745.2) scale(1,1.05)" font-size="26.4" text-anchor="start" font-weight="bold">2.54 (2.32, 2.79)</text>
<text transform="translate(1377.4,1785.2) scale(1,1.05)" font-size="19.45" text-anchor="start">Heterogeneity: </text>
<text transform="translate(1510.4,1785.2) scale(1,1.05)" font-size="18" text-anchor="start" style="font-family:'Liberation Serif',serif;font-style:italic">χ</text>
<text transform="translate(1519.6,1774.6) scale(1,1.05)" font-size="13.2" text-anchor="start">2</text>
<text transform="translate(1519.8,1792.1) scale(1,1.05)" font-size="13.2" text-anchor="start">1</text>
<text transform="translate(1526.8,1785.2) scale(1,1.05)" font-size="19.55" text-anchor="start">=0.4 (p=0.6)</text>
<polygon points="1314.8,1856.2 1322.6,1841.3 1330.0,1856.2 1322.6,1871.1" fill="#fff" stroke="#000" stroke-width="2.1" stroke-linejoin="round"/>
<text transform="translate(1012.0,1866.4) scale(1,1.05)" font-size="26.4" text-anchor="start" font-weight="bold">All</text>
<text transform="translate(1166.0,1866.4) scale(1,1.05)" font-size="26.4" text-anchor="end" font-weight="bold">1298</text>
<text transform="translate(1376.8,1866.4) scale(1,1.05)" font-size="26.4" text-anchor="start" font-weight="bold">2.60 (2.44, 2.76)</text>
<text transform="translate(1377.4,1905.5) scale(1,1.05)" font-size="19.45" text-anchor="start">Trend: </text>
<text transform="translate(1440.3,1905.5) scale(1,1.05)" font-size="18" text-anchor="start" style="font-family:'Liberation Serif',serif;font-style:italic">χ</text>
<text transform="translate(1448.8,1894.9) scale(1,1.05)" font-size="13.2" text-anchor="start">2</text>
<text transform="translate(1449.0,1912.4) scale(1,1.05)" font-size="13.2" text-anchor="start">1</text>
<text transform="translate(1456.8,1905.5) scale(1,1.05)" font-size="19.55" text-anchor="start">=0.3 (p=0.6)</text>
<path d="M-50.69 -3.60H-45.19V1.2H-50.69Z M-41.57 -3.60H-36.41V1.2H-41.57Z" fill="#fff" transform="translate(91.2,246.9) scale(1,1.05)"/>
<path d="M-36.02 -3.60H-30.52V1.2H-36.02Z M-26.90 -3.60H-21.73V1.2H-26.90Z" fill="#fff" transform="translate(91.2,706.9) scale(1,1.05)"/>
<path d="M-14.01 -3.60H-8.51V1.2H-14.01Z M-4.89 -3.60H0.27V1.2H-4.89Z" fill="#fff" transform="translate(152.8,898.3) scale(1,1.05)"/>
<path d="M-4.55 -3.62H0.98V1.2H-4.55Z M4.63 -3.62H9.83V1.2H4.63Z" fill="#fff" transform="translate(422.8,129.4) scale(1,1.05)"/>
<path d="M8.77 -3.62H14.30V1.2H8.77Z M17.95 -3.62H23.14V1.2H17.95Z" fill="#fff" transform="translate(422.8,129.4) scale(1,1.05)"/>
<path d="M76.78 -3.62H82.31V1.2H76.78Z M85.96 -3.62H91.16V1.2H85.96Z" fill="#fff" transform="translate(422.8,129.4) scale(1,1.05)"/>
<path d="M-21.66 -3.22H-16.79V1.2H-21.66Z M-13.68 -3.22H-9.10V1.2H-13.68Z" fill="#fff" transform="translate(182.1,626.5) scale(1,1.05)"/>
<path d="M-21.66 -3.22H-16.79V1.2H-21.66Z M-13.68 -3.22H-9.10V1.2H-13.68Z" fill="#fff" transform="translate(277.9,590.1) scale(1,1.05)"/>
<path d="M-18.50 -3.22H-13.64V1.2H-18.50Z M-10.52 -3.22H-5.94V1.2H-10.52Z" fill="#fff" transform="translate(277.9,712.4) scale(1,1.05)"/>
<path d="M-27.97 -3.22H-23.10V1.2H-27.97Z M-19.99 -3.22H-15.41V1.2H-19.99Z" fill="#fff" transform="translate(659.6,215.4) scale(1,1.05)"/>
<path d="M-18.50 -3.22H-13.64V1.2H-18.50Z M-10.52 -3.22H-5.94V1.2H-10.52Z" fill="#fff" transform="translate(659.6,335.9) scale(1,1.05)"/>
<path d="M-17.68 -3.60H-12.18V1.2H-17.68Z M-8.56 -3.60H-3.39V1.2H-8.56Z" fill="#fff" transform="translate(1203.8,865.7) scale(1,1.05)"/>
<path d="M-43.01 -2.87H-37.39V1.2H-43.01Z M-35.06 -2.87H-29.63V1.2H-35.06Z" fill="#fff" transform="translate(1166.4,187.8) scale(1,1.05)"/>
<path d="M-43.01 -2.87H-37.39V1.2H-43.01Z M-35.06 -2.87H-29.63V1.2H-35.06Z" fill="#fff" transform="translate(1166.4,222.7) scale(1,1.05)"/>
<path d="M69.02 -2.89H74.69V1.2H69.02Z M77.04 -2.89H82.49V1.2H77.04Z" fill="#fff" transform="translate(1376.8,187.8) scale(1,1.05)"/>
<path d="M1.03 -2.89H6.69V1.2H1.03Z M9.04 -2.89H14.49V1.2H9.04Z" fill="#fff" transform="translate(1376.8,222.7) scale(1,1.05)"/>
<path d="M69.02 -2.89H74.69V1.2H69.02Z M77.04 -2.89H82.49V1.2H77.04Z" fill="#fff" transform="translate(1376.8,222.7) scale(1,1.05)"/>
<path d="M105.98 -2.89H111.64V1.2H105.98Z M113.99 -2.89H119.45V1.2H113.99Z" fill="#fff" transform="translate(1376.8,222.7) scale(1,1.05)"/>
<path d="M157.73 -2.89H163.40V1.2H157.73Z M165.75 -2.89H171.20V1.2H165.75Z" fill="#fff" transform="translate(1376.8,222.7) scale(1,1.05)"/>
<path d="M170.55 -2.89H176.21V1.2H170.55Z M178.56 -2.89H184.02V1.2H178.56Z" fill="#fff" transform="translate(1376.8,222.7) scale(1,1.05)"/>
<path d="M0.66 -3.60H6.16V1.2H0.66Z M9.78 -3.60H14.95V1.2H9.78Z" fill="#fff" transform="translate(1376.8,256.3) scale(1,1.05)"/>
<path d="M68.11 -3.60H73.61V1.2H68.11Z M77.23 -3.60H82.40V1.2H77.23Z" fill="#fff" transform="translate(1376.8,256.3) scale(1,1.05)"/>
<path d="M156.10 -3.60H161.60V1.2H156.10Z M165.23 -3.60H170.39V1.2H165.23Z" fill="#fff" transform="translate(1376.8,256.3) scale(1,1.05)"/>
<path d="M0.01 -1.89H3.32V1.2H0.01Z M4.49 -1.89H7.70V1.2H4.49Z" fill="#fff" transform="translate(1519.8,303.2) scale(1,1.05)"/>
<path d="M11.89 -2.36H16.32V1.2H11.89Z M18.04 -2.36H22.32V1.2H18.04Z" fill="#fff" transform="translate(1526.8,296.3) scale(1,1.05)"/>
<path d="M-43.01 -2.87H-37.39V1.2H-43.01Z M-35.06 -2.87H-29.63V1.2H-35.06Z" fill="#fff" transform="translate(1166.4,377.8) scale(1,1.05)"/>
<path d="M-28.70 -3.60H-23.20V1.2H-28.70Z M-19.58 -3.60H-14.42V1.2H-19.58Z" fill="#fff" transform="translate(1166.4,447.2) scale(1,1.05)"/>
<path d="M69.02 -2.89H74.69V1.2H69.02Z M77.04 -2.89H82.49V1.2H77.04Z" fill="#fff" transform="translate(1376.8,377.8) scale(1,1.05)"/>
<path d="M1.03 -2.89H6.69V1.2H1.03Z M9.04 -2.89H14.49V1.2H9.04Z" fill="#fff" transform="translate(1376.8,412.7) scale(1,1.05)"/>
<path d="M69.02 -2.89H74.69V1.2H69.02Z M77.04 -2.89H82.49V1.2H77.04Z" fill="#fff" transform="translate(1376.8,412.7) scale(1,1.05)"/>
<path d="M68.11 -3.60H73.61V1.2H68.11Z M77.23 -3.60H82.40V1.2H77.23Z" fill="#fff" transform="translate(1376.8,447.2) scale(1,1.05)"/>
<path d="M0.01 -1.89H3.32V1.2H0.01Z M4.49 -1.89H7.70V1.2H4.49Z" fill="#fff" transform="translate(1519.8,494.1) scale(1,1.05)"/>
<path d="M11.89 -2.36H16.32V1.2H11.89Z M18.04 -2.36H22.32V1.2H18.04Z" fill="#fff" transform="translate(1526.8,487.2) scale(1,1.05)"/>
<path d="M-43.01 -2.87H-37.39V1.2H-43.01Z M-35.06 -2.87H-29.63V1.2H-35.06Z" fill="#fff" transform="translate(1166.4,568.9) scale(1,1.05)"/>
<path d="M23.20 -2.89H28.86V1.2H23.20Z M31.21 -2.89H36.67V1.2H31.21Z" fill="#fff" transform="translate(1376.8,568.9) scale(1,1.05)"/>
<path d="M69.02 -2.89H74.69V1.2H69.02Z M77.04 -2.89H82.49V1.2H77.04Z" fill="#fff" transform="translate(1376.8,568.9) scale(1,1.05)"/>
<path d="M69.02 -2.89H74.69V1.2H69.02Z M77.04 -2.89H82.49V1.2H77.04Z" fill="#fff" transform="translate(1376.8,603.3) scale(1,1.05)"/>
<path d="M22.65 -3.60H28.15V1.2H22.65Z M31.77 -3.60H36.94V1.2H31.77Z" fill="#fff" transform="translate(1376.8,638.0) scale(1,1.05)"/>
<path d="M35.87 -3.60H41.36V1.2H35.87Z M44.99 -3.60H50.15V1.2H44.99Z" fill="#fff" transform="translate(1376.8,638.0) scale(1,1.05)"/>
<path d="M66.65 -3.60H72.15V1.2H66.65Z M75.77 -3.60H80.93V1.2H75.77Z" fill="#fff" transform="translate(1376.8,638.0) scale(1,1.05)"/>
<path d="M0.01 -1.89H3.32V1.2H0.01Z M4.49 -1.89H7.70V1.2H4.49Z" fill="#fff" transform="translate(1519.8,684.9) scale(1,1.05)"/>
<path d="M28.18 -2.36H32.61V1.2H28.18Z M34.33 -2.36H38.61V1.2H34.33Z" fill="#fff" transform="translate(1526.8,678.0) scale(1,1.05)"/>
<path d="M-58.02 -3.60H-52.53V1.2H-58.02Z M-48.90 -3.60H-43.74V1.2H-48.90Z" fill="#fff" transform="translate(1166.0,759.2) scale(1,1.05)"/>
<path d="M22.65 -3.60H28.15V1.2H22.65Z M31.77 -3.60H36.94V1.2H31.77Z" fill="#fff" transform="translate(1376.8,759.2) scale(1,1.05)"/>
<path d="M35.87 -3.60H41.36V1.2H35.87Z M44.99 -3.60H50.15V1.2H44.99Z" fill="#fff" transform="translate(1376.8,759.2) scale(1,1.05)"/>
<path d="M103.33 -3.60H108.83V1.2H103.33Z M112.45 -3.60H117.61V1.2H112.45Z" fill="#fff" transform="translate(1376.8,759.2) scale(1,1.05)"/>
<path d="M0.01 -1.89H3.32V1.2H0.01Z M4.49 -1.89H7.70V1.2H4.49Z" fill="#fff" transform="translate(1449.0,805.2) scale(1,1.05)"/>
<path d="M-50.69 -3.60H-45.19V1.2H-50.69Z M-41.57 -3.60H-36.41V1.2H-41.57Z" fill="#fff" transform="translate(91.2,1354.4) scale(1,1.05)"/>
<path d="M-36.02 -3.60H-30.52V1.2H-36.02Z M-26.90 -3.60H-21.73V1.2H-26.90Z" fill="#fff" transform="translate(91.2,1814.4) scale(1,1.05)"/>
<path d="M-21.35 -3.60H-15.85V1.2H-21.35Z M-12.23 -3.60H-7.07V1.2H-12.23Z" fill="#fff" transform="translate(557.6,2005.8) scale(1,1.05)"/>
<path d="M-20.62 -3.60H-15.12V1.2H-20.62Z M-11.50 -3.60H-6.33V1.2H-11.50Z" fill="#fff" transform="translate(692.6,2005.8) scale(1,1.05)"/>
<path d="M-7.41 -3.60H-1.91V1.2H-7.41Z M1.71 -3.60H6.88V1.2H1.71Z" fill="#fff" transform="translate(692.6,2005.8) scale(1,1.05)"/>
<path d="M-21.66 -3.22H-16.79V1.2H-21.66Z M-13.68 -3.22H-9.10V1.2H-13.68Z" fill="#fff" transform="translate(155.7,1740.0) scale(1,1.05)"/>
<path d="M-21.66 -3.22H-16.79V1.2H-21.66Z M-13.68 -3.22H-9.10V1.2H-13.68Z" fill="#fff" transform="translate(265.7,1670.0) scale(1,1.05)"/>
<path d="M-18.50 -3.22H-13.64V1.2H-18.50Z M-10.52 -3.22H-5.94V1.2H-10.52Z" fill="#fff" transform="translate(353.7,1703.8) scale(1,1.05)"/>
<path d="M-27.97 -3.22H-23.10V1.2H-27.97Z M-19.99 -3.22H-15.41V1.2H-19.99Z" fill="#fff" transform="translate(612.2,1332.7) scale(1,1.05)"/>
<path d="M-17.68 -3.60H-12.18V1.2H-17.68Z M-8.56 -3.60H-3.39V1.2H-8.56Z" fill="#fff" transform="translate(1203.8,1973.2) scale(1,1.05)"/>
<path d="M-43.01 -2.87H-37.39V1.2H-43.01Z M-35.06 -2.87H-29.63V1.2H-35.06Z" fill="#fff" transform="translate(1166.4,1295.0) scale(1,1.05)"/>
<path d="M-43.01 -2.87H-37.39V1.2H-43.01Z M-35.06 -2.87H-29.63V1.2H-35.06Z" fill="#fff" transform="translate(1166.4,1329.9) scale(1,1.05)"/>
<path d="M69.02 -2.89H74.69V1.2H69.02Z M77.04 -2.89H82.49V1.2H77.04Z" fill="#fff" transform="translate(1376.8,1329.9) scale(1,1.05)"/>
<path d="M90.12 -3.60H95.62V1.2H90.12Z M99.24 -3.60H104.40V1.2H99.24Z" fill="#fff" transform="translate(1376.8,1363.5) scale(1,1.05)"/>
<path d="M0.01 -1.89H3.32V1.2H0.01Z M4.49 -1.89H7.70V1.2H4.49Z" fill="#fff" transform="translate(1519.8,1410.4) scale(1,1.05)"/>
<path d="M-43.01 -2.87H-37.39V1.2H-43.01Z M-35.06 -2.87H-29.63V1.2H-35.06Z" fill="#fff" transform="translate(1166.4,1485.0) scale(1,1.05)"/>
<path d="M-28.70 -3.60H-23.20V1.2H-28.70Z M-19.58 -3.60H-14.42V1.2H-19.58Z" fill="#fff" transform="translate(1166.4,1554.4) scale(1,1.05)"/>
<path d="M69.02 -2.89H74.69V1.2H69.02Z M77.04 -2.89H82.49V1.2H77.04Z" fill="#fff" transform="translate(1376.8,1485.0) scale(1,1.05)"/>
<path d="M105.98 -2.89H111.64V1.2H105.98Z M113.99 -2.89H119.45V1.2H113.99Z" fill="#fff" transform="translate(1376.8,1485.0) scale(1,1.05)"/>
<path d="M90.12 -3.60H95.62V1.2H90.12Z M99.24 -3.60H104.40V1.2H99.24Z" fill="#fff" transform="translate(1376.8,1554.4) scale(1,1.05)"/>
<path d="M0.01 -1.89H3.32V1.2H0.01Z M4.49 -1.89H7.70V1.2H4.49Z" fill="#fff" transform="translate(1519.8,1601.3) scale(1,1.05)"/>
<path d="M39.05 -2.36H43.47V1.2H39.05Z M45.20 -2.36H49.47V1.2H45.20Z" fill="#fff" transform="translate(1526.8,1594.4) scale(1,1.05)"/>
<path d="M-43.01 -2.87H-37.39V1.2H-43.01Z M-35.06 -2.87H-29.63V1.2H-35.06Z" fill="#fff" transform="translate(1166.4,1676.1) scale(1,1.05)"/>
<path d="M157.73 -2.89H163.40V1.2H157.73Z M165.75 -2.89H171.20V1.2H165.75Z" fill="#fff" transform="translate(1376.8,1676.1) scale(1,1.05)"/>
<path d="M0.01 -1.89H3.32V1.2H0.01Z M4.49 -1.89H7.70V1.2H4.49Z" fill="#fff" transform="translate(1519.8,1792.1) scale(1,1.05)"/>
<path d="M-58.02 -3.60H-52.53V1.2H-58.02Z M-48.90 -3.60H-43.74V1.2H-48.90Z" fill="#fff" transform="translate(1166.0,1866.4) scale(1,1.05)"/>
<path d="M0.01 -1.89H3.32V1.2H0.01Z M4.49 -1.89H7.70V1.2H4.49Z" fill="#fff" transform="translate(1449.0,1912.4) scale(1,1.05)"/>
</svg>
</body></html>
